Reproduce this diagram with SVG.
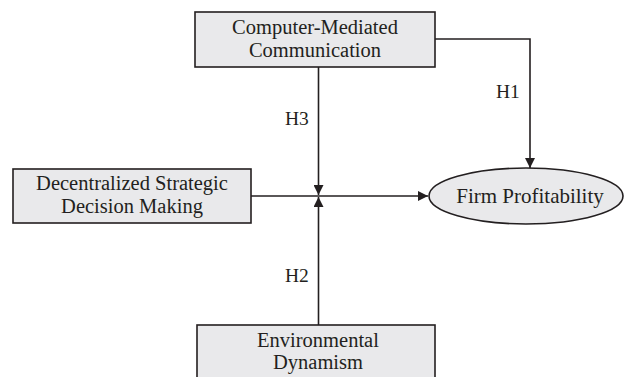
<svg xmlns="http://www.w3.org/2000/svg" width="624" height="377" viewBox="0 0 624 377">
<style>
.box{fill:#e9e9eb;stroke:#231f20;stroke-width:1.6}
.t{font-family:"Liberation Serif","Times New Roman",serif;font-size:20.5px;fill:#231f20;text-anchor:middle}
.f{font-family:"Liberation Serif","Times New Roman",serif;font-size:21px;fill:#231f20;text-anchor:middle}
.h{font-family:"Liberation Serif","Times New Roman",serif;font-size:19.5px;fill:#231f20}
.ln{fill:none;stroke:#231f20;stroke-width:1.6}
</style>
<defs>
<marker id="ah" viewBox="0 0 10 10" refX="10" refY="5" markerWidth="10" markerHeight="10" markerUnits="userSpaceOnUse" orient="auto">
<path d="M0,0 L10,5 L0,10 Z" fill="#231f20"/>
</marker>
</defs>
<rect width="624" height="377" fill="#ffffff"/>
<g id="connectors">
<polyline class="ln" points="435,39 530,39 530,168" marker-end="url(#ah)"/>
<line class="ln" x1="318.5" y1="67" x2="318.5" y2="195" marker-end="url(#ah)"/>
<line class="ln" x1="318.5" y1="325" x2="318.5" y2="197" marker-end="url(#ah)"/>
<line class="ln" x1="251" y1="196" x2="428" y2="196" marker-end="url(#ah)"/>
<text class="h" x="496" y="98">H1</text>
<text class="h" x="285" y="125">H3</text>
<text class="h" x="285" y="282">H2</text>
</g>
<g id="cmc">
<rect class="box" x="195" y="12" width="240" height="55"/>
<text class="t"><tspan x="315" y="34">Computer-Mediated</tspan><tspan x="315" y="56.8">Communication</tspan></text>
</g>
<g id="dsdm">
<rect class="box" x="13" y="169" width="238" height="54"/>
<text class="t"><tspan x="132" y="190">Decentralized Strategic</tspan><tspan x="132" y="212.8">Decision Making</tspan></text>
</g>
<g id="fp">
<ellipse class="box" cx="526" cy="196" rx="97" ry="28"/>
<text class="f" x="530" y="203">Firm Profitability</text>
</g>
<g id="ed">
<rect class="box" x="197" y="325" width="238" height="56"/>
<text class="t"><tspan x="318" y="346.5">Environmental</tspan><tspan x="318" y="369.3">Dynamism</tspan></text>
</g>
</svg>
